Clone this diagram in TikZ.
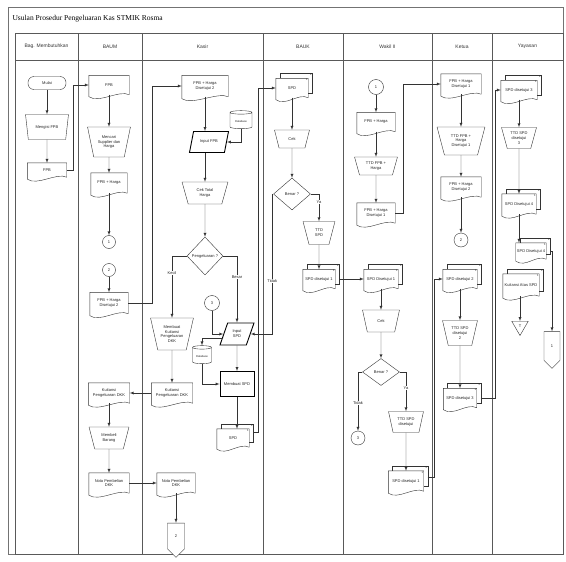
\documentclass[tikz,border=0pt]{standalone}
\usepackage{fontspec}
\setmainfont{Liberation Serif}
\setsansfont{Liberation Sans}
\usepackage{tikz}
\usetikzlibrary{shapes.geometric, shapes.symbols, arrows, calc}

\newcommand{\flowfont}{\sffamily\fontsize{4}{4.8}\selectfont}
\newcommand{\tinyflowfont}{\sffamily\fontsize{2.8}{3.2}\selectfont}
\newcommand{\headfont}{\sffamily\fontsize{5}{6}\selectfont}
\newcommand{\titlefont}{\rmfamily\fontsize{7.5}{9}\selectfont}

\begin{document}
\begin{tikzpicture}[x=1pt, y=-1pt]
\tikzstyle{frame}=[draw=black!55, line width=0.5pt]
\tikzstyle{lane}=[draw=black!65, line width=0.5pt]
\tikzstyle{header}=[font=\headfont, text=black!80]
\tikzstyle{base}=[font=\flowfont, align=center, inner sep=1pt, text=black!85]
\tikzstyle{terminal}=[base, rectangle, draw=black!80, fill=white, rounded corners=6pt, minimum width=38, minimum height=13]
\tikzstyle{manual}=[base, trapezium, shape border rotate=180, trapezium angle=72, trapezium stretches=true, draw=black!80, fill=white]
\tikzstyle{inputdata}=[base, trapezium, trapezium left angle=65, trapezium right angle=115, trapezium stretches=true, draw=black, line width=0.9pt, fill=white]
\tikzstyle{process}=[base, rectangle, draw=black, line width=0.9pt, fill=white]
\tikzstyle{decision}=[base, diamond, draw=black!80, fill=white, inner sep=0pt]
\tikzstyle{connector}=[base, circle, draw=black!80, fill=white, minimum size=14, inner sep=0pt]
\tikzstyle{offpage}=[base, signal, signal to=south, draw=black!80, fill=white, minimum width=17, minimum height=27, inner sep=0pt]
\tikzstyle{archive}=[base, regular polygon, regular polygon sides=3, shape border rotate=180, draw=black!80, fill=white, minimum size=20, inner sep=0pt]
\tikzstyle{database}=[base, font=\tinyflowfont, cylinder, shape border rotate=90, aspect=0.25, draw=black!80, fill=white, minimum width=22, minimum height=18]
\tikzstyle{sheetno}=[font=\tinyflowfont, inner sep=0.4pt, text=black!85]
\tikzstyle{docline}=[draw=black!80, line width=0.4pt]
\tikzstyle{doc}=[base, rectangle, fill=white, minimum width=38, minimum height=19,
  append after command={(\tikzlastnode.north west) edge[docline, to path={-- (\tikztostart -| \tikztotarget) -- (\tikztotarget)
    .. controls ([xshift=-10pt,yshift=5pt]\tikztotarget) and ([xshift=10pt,yshift=-9pt]\tikztotarget -| \tikztostart) .. ([yshift=-2pt]\tikztotarget -| \tikztostart) -- cycle}] (\tikzlastnode.south east)}]
\tikzstyle{multidoc}=[base, rectangle, fill=white, minimum width=34, minimum height=19,
  append after command={\pgfextra{\let\mdnode=\tikzlastnode}
    (\mdnode.north west) edge[docline, to path={++(4pt,0pt) -- ++(0pt,5pt) -- ([xshift=4pt,yshift=5pt]\tikztostart -| \tikztotarget)
      -- ([xshift=4pt,yshift=5pt]\tikztotarget) -- ([yshift=5pt]\tikztotarget)}] (\mdnode.south east)
    (\mdnode.north west) edge[docline, to path={-- (\tikztostart -| \tikztotarget) -- (\tikztotarget)
      .. controls ([xshift=-10pt,yshift=5pt]\tikztotarget) and ([xshift=10pt,yshift=-9pt]\tikztotarget -| \tikztostart) .. ([yshift=-2pt]\tikztotarget -| \tikztostart) -- cycle}] (\mdnode.south east)
    node[sheetno, anchor=north east] at ([xshift=4pt,yshift=5pt]\mdnode.north east) {2}
    node[sheetno, anchor=north east] at (\mdnode.north east) {1}}]
\tikzstyle{arrow}=[-latex, draw=black!80, line width=0.4pt]
\tikzstyle{branch}=[base, fill=white, inner sep=0.5pt]

\useasboundingbox (0,0) rectangle (566,562);
\draw[frame] (8,7) rectangle (563,554);
\node[anchor=west, font=\titlefont] (judul) at (9,19) {Usulan Prosedur Pengeluaran Kas STMIK Rosma};
\draw[lane] (15,33) rectangle (563,554);
\draw[lane] (15,60) -- (563,60);
\foreach \x in {78,142,263,343,432,492} \draw[lane] (\x,33) -- (\x,554);

\node[header] (hbag) at (46.5,46.5) {Bag. Membutuhkan};
\node[header] (hbaum) at (110,46.5) {BAUM};
\node[header] (hkasir) at (202.5,46.5) {Kasir};
\node[header] (hbauk) at (303,46.5) {BAUK};
\node[header] (hwakil) at (387.5,46.5) {Wakil II};
\node[header] (hketua) at (462,46.5) {Ketua};
\node[header] (hyayasan) at (527.5,46.5) {Yayasan};

% Bag. Membutuhkan
\node[terminal] (mulai) at (47,83) {Mulai};
\node[manual, minimum width=43, minimum height=25] (isifpb) at (47,127) {Mengisi FPB};
\node[doc, minimum width=39, minimum height=14] (fpb0) at (47,170) {FPB};

% BAUM
\node[doc, minimum width=40] (fpb1) at (109,85) {FPB};
\node[manual, minimum width=43, minimum height=30] (carisup) at (109,142) {Mencari\\Supplier dan\\Harga};
\node[doc, minimum width=36, minimum height=20] (fpbharga) at (109,183) {FPB + Harga};
\node[connector, minimum size=13] (c1) at (109,242) {1};
\node[connector, minimum size=13] (c2) at (109,270) {2};
\node[doc, minimum height=21] (fpbs2a) at (109,303) {FPB + Harga\\Disetujui 2};
\node[doc, minimum width=41, minimum height=20] (kuit1) at (109,393) {Kuitansi\\Pengeluaran DKK};
\node[manual, minimum width=40, minimum height=22] (beli) at (109,438) {Membeli\\Barang};
\node[doc, minimum width=40, minimum height=20] (nota1) at (109,483) {Nota Pembelian\\DKK};

% Kasir
\node[doc, minimum width=46, minimum height=21] (fpbs2b) at (205,86) {FPB + Harga\\Disetujui 2};
\node[database] (db1) at (241,121) {Database};
\node[inputdata, minimum width=39, minimum height=21] (inputfpb) at (209,142) {Input FPB};
\node[manual, minimum width=46, minimum height=22] (cektotal) at (205,193) {Cek Total\\Harga};
\node[decision, minimum width=36, minimum height=38] (keluar) at (205,256) {Pengeluaran ?};
\node[manual, minimum width=43, minimum height=32] (buatkuit) at (172,334) {Membuat\\Kuitansi\\Pengeluaran\\DKK};
\node[inputdata, minimum width=34, minimum height=22] (inputspd) at (237,334) {Input\\SPD};
\node[connector, minimum size=15] (c3a) at (212,303) {3};
\node[database, minimum width=19] (db2) at (202,356) {Database};
\node[process, minimum width=34, minimum height=25] (buatspd) at (237,384) {Membuat SPD};
\node[multidoc, minimum width=32, minimum height=18] (spd1) at (233,438) {SPD};
\node[doc, minimum width=41, minimum height=20] (kuit2) at (172,393) {Kuitansi\\Pengeluaran DKK};
\node[doc, minimum width=38, minimum height=20] (nota2) at (176,483) {Nota Pembelian\\DKK};
\node[offpage] (off2) at (176,536) {2};

% BAUK
\node[multidoc, minimum width=32] (spd2) at (292,88) {SPD};
\node[manual, minimum width=35, minimum height=18] (cek1) at (292,139) {Cek};
\node[decision, minimum width=37, minimum height=32] (benar1) at (292,194) {Benar ?};
\node[manual, minimum width=32, minimum height=23] (ttdspd) at (319,233) {TTD\\SPD};
\node[multidoc, minimum width=32] (spds1a) at (319,279) {SPD disetujui 1};

% Wakil II
\node[connector, minimum size=15] (c1b) at (376,87) {1};
\node[doc] (fpbh2) at (376,122) {FPB + Harga};
\node[manual, minimum width=43, minimum height=18] (ttdfpb) at (376,166) {TTD FPB +\\Harga};
\node[doc, minimum height=20] (fpbs1a) at (376,213) {FPB + Harga\\Disetujui 1};
\node[multidoc] (spds1b) at (381,279) {SPD Disetujui 1};
\node[manual, minimum width=37, minimum height=22] (cek2) at (381,321) {Cek};
\node[decision, minimum width=37, minimum height=27] (benar2) at (381,372) {Benar ?};
\node[connector] (c3b) at (358,438) {3};
\node[manual, minimum width=35, minimum height=21] (ttdspds) at (406,422) {TTD SPD\\disetujui};
\node[multidoc, minimum width=35, minimum height=20] (spds1c) at (406,481) {SPD disetujui 1};

% Ketua
\node[doc, minimum width=40, minimum height=20] (fpbs1b) at (461,84) {FPB + Harga\\Disetujui 1};
\node[manual, minimum width=48, minimum height=28] (ttdfpbs) at (461,141) {TTD FPB +\\Harga\\Disetujui 1};
\node[doc, minimum width=40, minimum height=20] (fpbs2c) at (461,187) {FPB + Harga\\Disetujui 2};
\node[connector] (c2b) at (461,240) {2};
\node[multidoc] (spds2) at (460,279) {SPD disetujui 2};
\node[manual, minimum width=35, minimum height=25] (ttdspds2) at (460,333) {TTD SPD\\disetujui\\2};
\node[multidoc, minimum width=33] (spds3) at (460,398) {SPD disetujui 3};

% Yayasan
\node[multidoc, minimum width=36] (spds3b) at (519,90) {SPD disetujui 3};
\node[manual, minimum width=35, minimum height=21] (ttdspds3) at (519,138) {TTD SPD\\disetujui\\3};
\node[multidoc, minimum height=20] (spds4) at (519,204) {SPD Disetujui 4};
\node[multidoc, minimum width=28, minimum height=16] (spds4b) at (531,251) {SPD Disetujui 4};
\node[multidoc, minimum width=36, minimum height=22] (kuitspd) at (521,285) {Kuitansi Atas SPD};
\node[archive, minimum size=19] (arsip) at (520,326) {T};
\node[offpage, minimum width=16, minimum height=30] (off1) at (552,346) {1};

\draw[arrow] (mulai) -- (isifpb);
\draw[arrow] (isifpb) -- (fpb0);
\draw[arrow] (fpb0.east) -- ++(6,0) |- (fpb1.west);
\draw[arrow] (fpb1) -- (carisup);
\draw[arrow] (carisup) -- (fpbharga);
\draw[arrow] (fpbharga) -- (c1);
\draw[arrow] (c2) -- (fpbs2a);
\draw[arrow] (fpbs2a.east) -- ++(24,0) |- (fpbs2b.west);
\draw[arrow] (fpbs2b.south) -- (fpbs2b.south |- inputfpb.north);
\draw[arrow] (db1.south) |- (inputfpb.east);
\draw[arrow] (inputfpb.south -| cektotal.north) -- (cektotal.north);
\draw[arrow] (cektotal) -- (keluar);
\draw[arrow] (keluar.west) -| node[branch, pos=0.64] {Kecil} (buatkuit.north);
\draw[arrow] (keluar.east) -| node[branch, pos=0.66] {Besar} (inputspd.north);
\draw[arrow] (c3a.south) |- (inputspd.west);
\draw[arrow] ([yshift=-4pt]inputspd.west) -| (db2.north);
\draw[arrow] (db2.south) |- (buatspd.west);
\draw[arrow] (inputspd) -- (buatspd);
\draw[arrow] (buatspd.south) -- (buatspd.south |- spd1.north);
\draw[arrow] ([xshift=4pt,yshift=6pt]spd1.east) -- ++(5,0) |- (spd2.west);
\draw[arrow] (buatkuit) -- (kuit2);
\draw[arrow] (kuit2) -- (kuit1);
\draw[arrow] (kuit1) -- (beli);
\draw[arrow] (beli) -- (nota1);
\draw[arrow] (nota1) -- (nota2);
\draw[arrow] (nota2) -- (off2);
\draw[arrow] (spd2) -- (cek1);
\draw[arrow] (cek1) -- (benar1);
\draw[arrow] (benar1.west) -- ++(-1,0) |- node[branch, pos=0.31] {Tidak} (inputspd.east);
\draw[arrow] (benar1.east) -| node[branch, pos=0.65] {Ya} (ttdspd.north);
\draw[arrow] (ttdspd) -- (spds1a);
\draw[arrow] ([xshift=4pt]spds1a.east) -- (spds1b.west);
\draw[arrow] (c1b) -- (fpbh2);
\draw[arrow] (fpbh2) -- (ttdfpb);
\draw[arrow] (ttdfpb) -- (fpbs1a);
\draw[arrow] (fpbs1a.east) -- ++(8,0) |- (fpbs1b.west);
\draw[arrow] (spds1b) -- (cek2);
\draw[arrow] (cek2) -- (benar2);
\draw[arrow] (benar2.west) -| node[branch, pos=0.76] {Tidak} (c3b.north);
\draw[arrow] (benar2.east) -| node[branch, pos=0.7] {Ya} (ttdspds.north);
\draw[arrow] (ttdspds) -- (spds1c);
\draw[arrow] ([xshift=4pt,yshift=4pt]spds1c.east) -- ++(6,0) |- (spds2.west);
\draw[arrow] (fpbs1b) -- (ttdfpbs);
\draw[arrow] (ttdfpbs) -- (fpbs2c);
\draw[arrow] (fpbs2c) -- (c2b);
\draw[arrow] (spds2) -- (ttdspds2);
\draw[arrow] (ttdspds2) -- (spds3);
\draw[arrow] ([xshift=4pt]spds3.east) -- ++(14,0) |- (spds3b.west);
\draw[arrow] (spds3b) -- (ttdspds3);
\draw[arrow] (ttdspds3) -- (spds4);
\draw[arrow] (spds4.south) -- (spds4.south |- spds4b.north);
\draw[arrow] (kuitspd.south -| arsip.north) -- (arsip.north);
\draw[arrow] ([xshift=4pt]spds4b.east) -| (off1.north);

\end{tikzpicture}
\end{document}
